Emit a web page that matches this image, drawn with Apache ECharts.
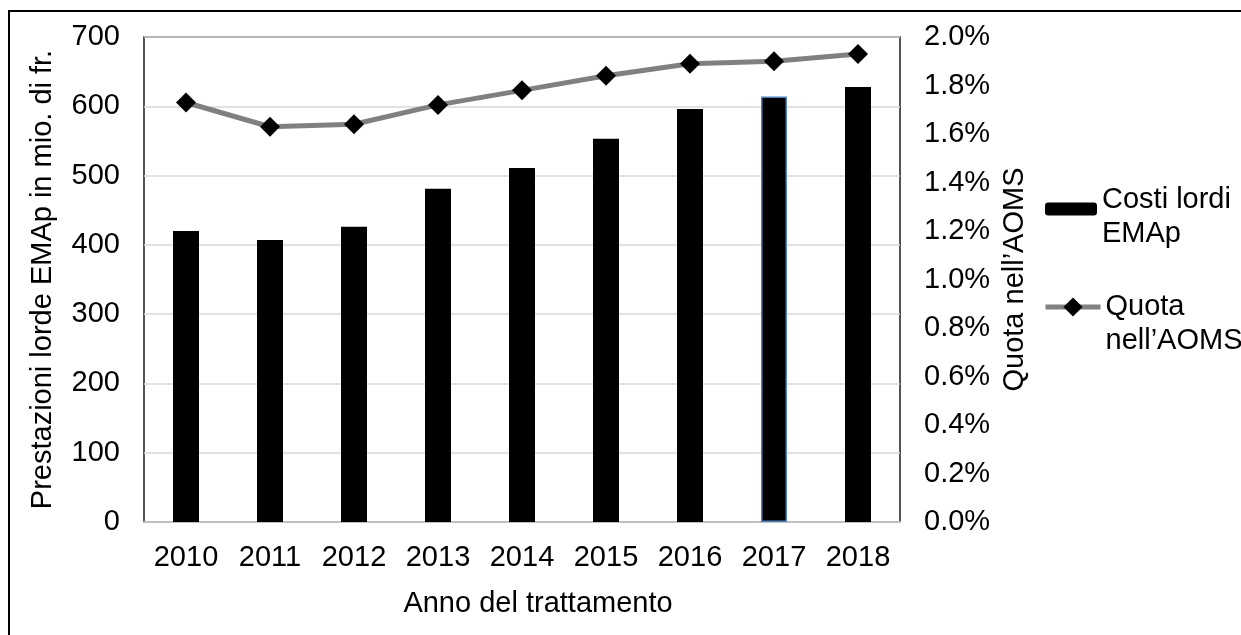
<!DOCTYPE html>
<html>
<head>
<meta charset="utf-8">
<script src="https://cdn.jsdelivr.net/npm/echarts@6/dist/echarts.min.js"></script>
<style>
  html, body { margin: 0; padding: 0; background: #fff; }
  #chart { width: 1241px; height: 635px; }
</style>
</head>
<body>
<div id="chart"></div>
<script>
// data
var years = ['2010', '2011', '2012', '2013', '2014', '2015', '2016', '2017', '2018'];
var costs = [420, 407, 426, 481, 511, 553, 596, 614, 628];          // mio. di fr.
var quota = [1.73, 1.63, 1.64, 1.72, 1.78, 1.84, 1.89, 1.90, 1.93]; // percent
var barName = 'Costi lordi EMAp';
var lineName = 'Quota nell’AOMS';

var font = "'Liberation Sans', Arial, sans-serif";
var fs = 29;
var chart = echarts.init(document.getElementById('chart'));

// the 2017 bar is selected in the original (blue outline)
var barData = costs.map(function (v, i) {
  if (years[i] === '2017') {
    return { value: v, itemStyle: { borderColor: '#4f81bd', borderWidth: 1.5 } };
  }
  return v;
});

// legend text: a spacer line on top pushes the words down so the icon
// sits next to the first line, like in Excel
var legendRich = {
  a: { fontSize: fs, lineHeight: 34, color: '#000', fontFamily: font },
  s1: { fontSize: 2, lineHeight: 16 },
  s2: { fontSize: 2, lineHeight: 34 }
};

chart.setOption({
  animation: false,
  textStyle: { fontFamily: font, color: '#000' },
  // outer chart frame
  graphic: [{
    type: 'rect',
    shape: { x: 9, y: 11, width: 2000, height: 2000 },
    style: { fill: 'none', stroke: '#000', lineWidth: 2 },
    silent: true
  }],
  grid: {
    left: 144, right: 341, top: 37, bottom: 113,
    show: true, borderColor: '#1a1a1a', borderWidth: 1.5
  },
  legend: [{
    data: [barName],
    orient: 'vertical',
    left: 1045, top: 174, padding: 0,
    itemWidth: 52, itemHeight: 13,
    formatter: function () { return '{s1| }\n{a|Costi lordi}\n{a|EMAp}'; },
    textStyle: { rich: legendRich }
  }, {
    data: [lineName],
    orient: 'vertical',
    left: 1043, top: 272, padding: 0,
    itemWidth: 55, itemHeight: 24,
    lineStyle: { color: '#808080', width: 5 },
    formatter: function () { return '{s2| }\n{a|Quota}\n{a|nell’AOMS}'; },
    textStyle: { rich: legendRich }
  }],
  xAxis: {
    type: 'category',
    data: years,
    name: 'Anno del trattamento',
    nameLocation: 'middle',
    nameGap: 67,
    nameTextStyle: { fontSize: fs, color: '#000', padding: [0, 0, 0, 32] },
    axisLine: { lineStyle: { color: '#bfbfbf', width: 2 } },
    axisTick: { show: false },
    axisLabel: { fontSize: fs, color: '#000', margin: 21 }
  },
  yAxis: [{
    type: 'value',
    min: 0, max: 700, interval: 100,
    name: 'Prestazioni lorde EMAp in mio. di fr.',
    nameLocation: 'middle',
    nameGap: 87,
    nameTextStyle: { fontSize: fs, color: '#000' },
    axisLine: { show: false },
    axisTick: { show: false },
    axisLabel: { fontSize: fs, color: '#000', margin: 24 },
    splitLine: { lineStyle: { color: '#d9d9d9', width: 1.5 } }
  }, {
    type: 'value',
    min: 0, max: 2.0, interval: 0.2,
    name: lineName,
    nameLocation: 'middle',
    nameGap: 96,
    nameTextStyle: { fontSize: fs, color: '#000' },
    axisLine: { show: false },
    axisTick: { show: false },
    axisLabel: {
      fontSize: fs, color: '#000', margin: 24,
      formatter: function (v) { return v.toFixed(1) + '%'; }
    },
    splitLine: { show: false }
  }],
  series: [{
    name: barName,
    type: 'bar',
    data: barData,
    barWidth: 26,
    itemStyle: { color: '#000' }
  }, {
    name: lineName,
    type: 'line',
    yAxisIndex: 1,
    data: quota,
    symbol: 'diamond',
    symbolSize: 20,
    lineStyle: { color: '#808080', width: 5 },
    itemStyle: { color: '#000' },
    z: 3
  }]
});
</script>
</body>
</html>
